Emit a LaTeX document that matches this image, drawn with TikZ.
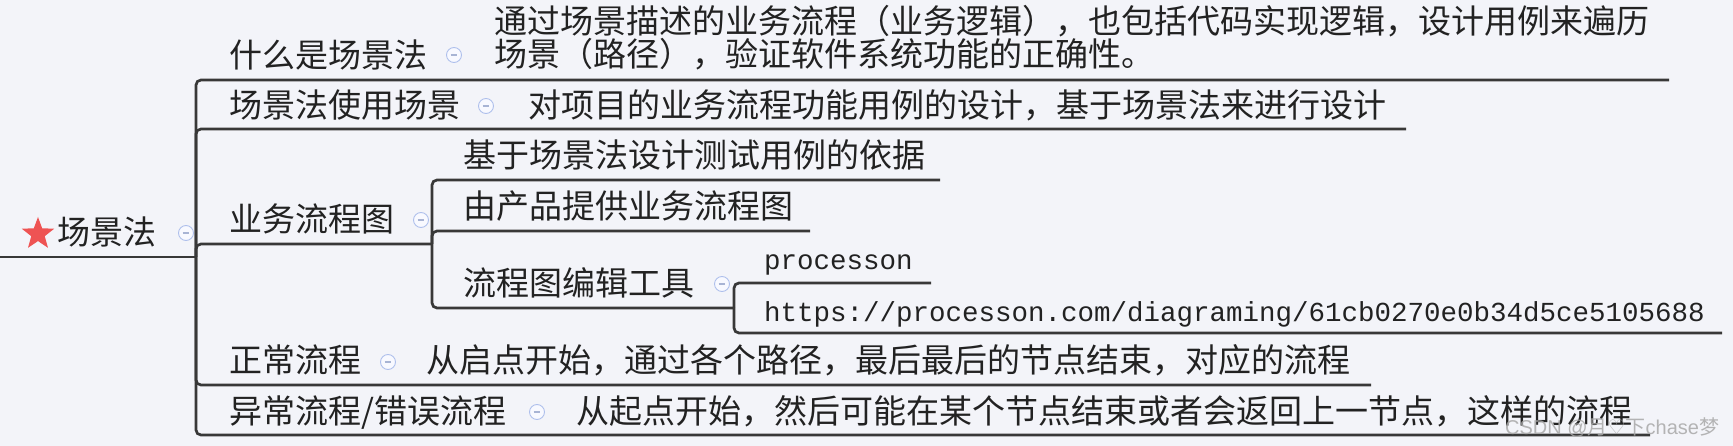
\documentclass[tikz,border=0pt]{standalone}
\usepackage{fontspec}
\setmainfont{Liberation Serif}
\newfontfamily\cjk{Noto Sans CJK SC}
\newfontfamily\monof{Liberation Mono}
\newfontfamily\wmsans{Liberation Sans}
\newfontfamily\symf{DejaVu Sans}
\usetikzlibrary{shapes.geometric}
\definecolor{bgc}{HTML}{F3F4F9}
\definecolor{linec}{HTML}{383838}
\definecolor{txt}{HTML}{222222}
\definecolor{foldc}{HTML}{AFC0EC}
\definecolor{foldfill}{HTML}{F8F9FF}
\definecolor{foldm}{HTML}{A8B4D4}
\definecolor{starred}{HTML}{EE5353}
\definecolor{wmc}{HTML}{A8A8A8}
\tikzset{
  topic/.style={anchor=base west, inner sep=0pt, text=txt, font=\cjk\fontsize{33}{33}\selectfont},
  urltext/.style={anchor=base west, inner sep=0pt, text=txt, font=\monof\fontsize{27.5}{27.5}\selectfont},
  conn/.style={draw=linec, line width=2.7pt, rounded corners=5pt},
  fold/.style={circle, draw=foldc, fill=foldfill, line width=0.9pt, minimum size=15pt, inner sep=0pt,
    path picture={\draw[foldm, line width=1.1pt] (path picture bounding box.center) ++(-3.4,0) -- ++(6.8,0);}},
  starmark/.style={star, star points=5, star point ratio=2.4, fill=starred, draw=none, minimum size=34pt, inner sep=0pt},
  wmark/.style={anchor=west, inner sep=0pt, text=wmc, text opacity=0.85, font=\wmsans\fontsize{20}{20}\selectfont}
}
\begin{document}
\begin{tikzpicture}[x=1pt,y=-1pt]
\fill[bgc] (0,0) rectangle (1733,446);
\useasboundingbox (0,0) rectangle (1733,446);

% ---- root
\node[starmark] (star) at (38,234) {};
\node[topic] (root) at (57,245) {场景法};
\node[fold] (rootf) at (186,233) {};
\coordinate (r0) at (0,257);
\coordinate (rj) at (196,257);
\draw[conn] (r0) -- (rj);

% ---- topic 1
\node[topic] (t1) at (229,68) {什么是场景法};
\node[fold] (t1f) at (454,55) {};
\node[topic] (t1d) at (494,34) {\vtop{\baselineskip=33pt\lineskiplimit=-100pt
  \hbox{通过场景描述的业务流程（业务逻辑），也包括代码实现逻辑，设计用例来遍历}
  \hbox{场景（路径），验证软件系统功能的正确性。}}};
\coordinate (t1e) at (1669,80);
\draw[conn] (rj) |- (t1e);

% ---- topic 2
\node[topic] (t2) at (229,118) {场景法使用场景};
\node[fold] (t2f) at (486,106) {};
\node[topic] (t2d) at (528,118) {对项目的业务流程功能用例的设计，基于场景法来进行设计};
\coordinate (t2e) at (1406,129);
\draw[conn] (rj) |- (t2e);

% ---- topic 3
\node[topic] (t3) at (229,232) {业务流程图};
\node[fold] (t3f) at (421,220) {};
\coordinate (t3j) at (432,244);
\draw[conn] (rj) |- (t3j);

\node[topic] (s1) at (463,168) {基于场景法设计测试用例的依据};
\coordinate (s1e) at (940,180);
\draw[conn] (t3j) |- (s1e);

\node[topic] (s2) at (463,219) {由产品提供业务流程图};
\coordinate (s2e) at (810,231);
\draw[conn] (t3j) |- (s2e);

\node[topic] (s3) at (463,296) {流程图编辑工具};
\node[fold] (s3f) at (722,284) {};
\coordinate (s3j) at (734,308);
\draw[conn] (t3j) |- (s3j);

\node[urltext] (u1) at (764,270) {processon};
\coordinate (u1e) at (931,283);
\draw[conn] (s3j) |- (u1e);

\node[urltext] (u2) at (764,322) {https://processon.com/diagraming/61cb0270e0b34d5ce5105688};
\coordinate (u2e) at (1722,333);
\draw[conn] (s3j) |- (u2e);

% ---- topic 4
\node[topic] (t4) at (229,373) {正常流程};
\node[fold] (t4f) at (388,362) {};
\node[topic] (t4d) at (426,373) {从启点开始，通过各个路径，最后最后的节点结束，对应的流程};
\coordinate (t4e) at (1371,385);
\draw[conn] (rj) |- (t4e);

% ---- topic 5
\node[topic] (t5) at (229,423) {异常流程/错误流程};
\node[fold] (t5f) at (537,412) {};
\node[topic] (t5d) at (576,423) {从起点开始，然后可能在某个节点结束或者会返回上一节点，这样的流程};
\coordinate (t5e) at (1650,435);
\draw[conn] (rj) |- (t5e);

% ---- watermark
\node[wmark] (wm) at (1505,427) {CSDN @{\cjk 月}{\symf ♡}{\cjk 下}chase{\cjk 梦}};
\end{tikzpicture}
\end{document}
